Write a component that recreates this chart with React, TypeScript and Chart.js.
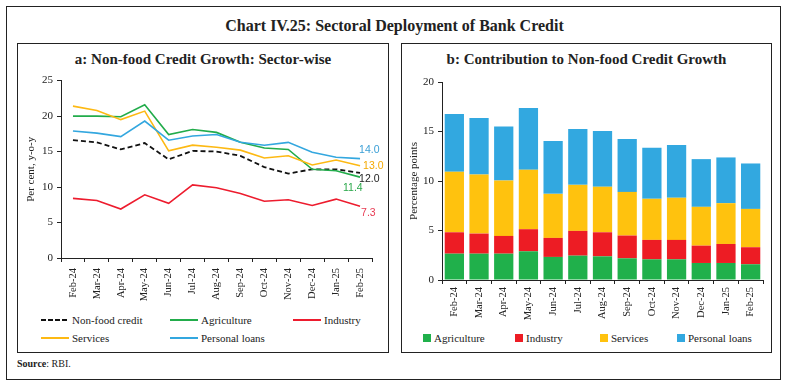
import React, { useEffect, useRef } from "react";
import { Chart, registerables } from "chart.js";
Chart.register(...registerables);

// ---------- DATA ----------
const months = ["Feb-24", "Mar-24", "Apr-24", "May-24", "Jun-24", "Jul-24", "Aug-24", "Sep-24", "Oct-24", "Nov-24", "Dec-24", "Jan-25", "Feb-25"];

// Panel a: growth, per cent y-o-y
const nonFoodGrowth = [16.6, 16.3, 15.3, 16.2, 13.9, 15.1, 15.0, 14.4, 12.8, 11.9, 12.5, 12.5, 12.0];
const agricultureGrowth = [20.0, 20.0, 19.9, 21.6, 17.4, 18.1, 17.7, 16.3, 15.5, 15.3, 12.5, 12.3, 11.4];
const industryGrowth = [8.4, 8.1, 6.9, 8.9, 7.7, 10.3, 9.9, 9.1, 8.0, 8.2, 7.4, 8.3, 7.3];
const servicesGrowth = [21.4, 20.8, 19.5, 20.7, 15.1, 15.9, 15.6, 15.2, 14.1, 14.4, 13.1, 13.8, 13.0];
const personalLoansGrowth = [17.9, 17.6, 17.1, 19.3, 16.6, 17.2, 17.4, 16.3, 15.9, 16.3, 14.9, 14.2, 14.0];

// Panel b: contribution, percentage points
const agricultureContrib = [2.66, 2.66, 2.66, 2.90, 2.33, 2.46, 2.39, 2.19, 2.09, 2.09, 1.72, 1.72, 1.59];
const industryContrib = [2.16, 2.03, 1.79, 2.23, 1.92, 2.50, 2.43, 2.30, 1.96, 1.96, 1.75, 1.92, 1.72];
const servicesContrib = [6.11, 5.97, 5.60, 6.00, 4.45, 4.65, 4.59, 4.41, 4.15, 4.25, 3.92, 4.12, 3.87];
const personalLoansContrib = [5.83, 5.70, 5.46, 6.24, 5.33, 5.63, 5.63, 5.33, 5.16, 5.33, 4.82, 4.62, 4.59];

const growthTicks = [0, 5, 10, 15, 20, 25];
const contribTicks = [0, 5, 10, 15, 20];

// ---------- STYLE ----------
const SERIF = "'Liberation Serif', 'DejaVu Serif', serif";
const AXIS = "#222222";
const C_GREEN = "#22ac4b";
const C_RED = "#ed1c2e";
const C_YELLOW = "#fdb913";
const C_BLUE = "#33a7df";
const B_GREEN = "#20b04b";
const B_RED = "#ed1c24";
const B_YELLOW = "#ffc20e";
const B_BLUE = "#32a8e0";

const endLabelPlugin = {
  id: "endLabels",
  afterDatasetsDraw(chart: any) {
    const ctx = chart.ctx;
    chart.data.datasets.forEach((ds: any, i: number) => {
      const off = ds.endLabel;
      if (!off) return;
      const meta = chart.getDatasetMeta(i);
      const pt = meta.data[meta.data.length - 1];
      const v = ds.data[ds.data.length - 1];
      ctx.save();
      ctx.font = "10.5px 'Liberation Sans', sans-serif";
      ctx.fillStyle = off.color;
      ctx.textAlign = "left";
      ctx.textBaseline = "middle";
      ctx.fillText(Number(v).toFixed(1), pt.x + off.dx, pt.y + off.dy);
      ctx.restore();
    });
  },
};

function yScale(ticks: number[], title: string, width: number, titleOffset: number) {
  return {
    min: ticks[0],
    max: ticks[ticks.length - 1],
    afterBuildTicks: (s: any) => {
      s.ticks = ticks.map((v) => ({ value: v }));
    },
    afterFit: (s: any) => {
      s.width = width;
    },
    grid: { drawOnChartArea: false, drawTicks: true, tickLength: 4, color: AXIS },
    border: { display: true, color: AXIS, width: 1 },
    ticks: { font: { family: SERIF, size: 11 }, color: "#222", padding: 4 },
    title: {
      display: true,
      text: title,
      font: { family: SERIF, size: 11 },
      color: "#222",
      padding: { top: titleOffset, bottom: 0 },
    },
  };
}

function xScale(height: number, pad: number) {
  return {
    offset: true,
    afterFit: (s: any) => {
      s.height = height;
    },
    grid: { offset: true, drawOnChartArea: false, drawTicks: true, tickLength: 4, color: AXIS },
    border: { display: true, color: AXIS, width: 1 },
    ticks: {
      font: { family: SERIF, size: 10.5 },
      color: "#222",
      minRotation: 90,
      maxRotation: 90,
      autoSkip: false,
      padding: pad,
    },
  };
}

function LineChart() {
  const ref = useRef<HTMLCanvasElement>(null);
  useEffect(() => {
    const mk = (label: string, data: number[], color: string, endLabel: any, dash: number[] = []) => ({
      label,
      data,
      borderColor: color,
      backgroundColor: color,
      borderWidth: dash.length ? 1.8 : 1.6,
      borderDash: dash,
      pointRadius: 0,
      tension: 0,
      endLabel,
    });
    const chart = new Chart(ref.current as HTMLCanvasElement, {
      type: "line",
      data: {
        labels: months,
        datasets: [
          mk("Personal loans", personalLoansGrowth, C_BLUE, { dx: -1, dy: -9, color: "#3a9fd6" }),
          mk("Services", servicesGrowth, C_YELLOW, { dx: 3, dy: 0, color: "#f4a900" }),
          mk("Agriculture", agricultureGrowth, C_GREEN, { dx: -17, dy: 11, color: "#2aa84a" }),
          mk("Industry", industryGrowth, C_RED, { dx: 1, dy: 7, color: "#e83a52" }),
          mk("Non-food credit", nonFoodGrowth, "#111111", { dx: -1, dy: 6, color: "#222" }, [5, 3]),
        ] as any,
      },
      options: {
        responsive: false,
        animation: false,
        layout: { padding: { top: 8, right: 16, left: 0, bottom: 0 } },
        plugins: { legend: { display: false }, tooltip: { enabled: false } },
        scales: {
          x: xScale(52, 6) as any,
          y: yScale(growthTicks, "Per cent, y-o-y", 44, 8) as any,
        },
      },
      plugins: [endLabelPlugin],
    });
    return () => chart.destroy();
  }, []);
  return <canvas ref={ref} width={371} height={240} style={{ position: "absolute", left: 17, top: 70 }} />;
}

function BarChart() {
  const ref = useRef<HTMLCanvasElement>(null);
  useEffect(() => {
    const mk = (label: string, data: number[], color: string) => ({
      label,
      data,
      backgroundColor: color,
      borderWidth: 0,
      barPercentage: 0.78,
      categoryPercentage: 1,
    });
    const chart = new Chart(ref.current as HTMLCanvasElement, {
      type: "bar",
      data: {
        labels: months,
        datasets: [
          mk("Agriculture", agricultureContrib, B_GREEN),
          mk("Industry", industryContrib, B_RED),
          mk("Services", servicesContrib, B_YELLOW),
          mk("Personal loans", personalLoansContrib, B_BLUE),
        ],
      },
      options: {
        responsive: false,
        animation: false,
        layout: { padding: { top: 12, right: 8, left: 0, bottom: 0 } },
        plugins: { legend: { display: false }, tooltip: { enabled: false } },
        scales: {
          x: { ...(xScale(45, 3) as any), stacked: true },
          y: { ...(yScale(contribTicks, "Percentage points", 41, 7) as any), stacked: true },
        },
      },
    });
    return () => chart.destroy();
  }, []);
  return <canvas ref={ref} width={370} height={255} style={{ position: "absolute", left: 401, top: 70 }} />;
}

const lineLegend = [
  { label: "Non-food credit", color: "#111", dash: true, x: 41, y: 320 },
  { label: "Agriculture", color: C_GREEN, dash: false, x: 170, y: 320 },
  { label: "Industry", color: C_RED, dash: false, x: 293, y: 320 },
  { label: "Services", color: C_YELLOW, dash: false, x: 41, y: 338 },
  { label: "Personal loans", color: C_BLUE, dash: false, x: 170, y: 338 },
];

const barLegend = [
  { label: "Agriculture", color: B_GREEN, x: 423 },
  { label: "Industry", color: B_RED, x: 515 },
  { label: "Services", color: B_YELLOW, x: 600 },
  { label: "Personal loans", color: B_BLUE, x: 677 },
];

export default function App() {
  const text = { fontFamily: SERIF, color: "#222" } as React.CSSProperties;
  return (
    <div style={{ position: "fixed", left: 0, top: 0, width: 789, height: 387, background: "#fff", ...text }}>
      <div style={{ position: "absolute", left: 6, top: 6, width: 775, height: 374, border: "1px solid #222", boxSizing: "border-box" }} />
      <div style={{ position: "absolute", left: 0, width: 789, top: 16, textAlign: "center", fontSize: 16, fontWeight: "bold", lineHeight: "20px" }}>
        Chart IV.25: Sectoral Deployment of Bank Credit
      </div>
      <div style={{ position: "absolute", left: 17, top: 43, width: 372, height: 310, border: "1px solid #222", boxSizing: "border-box" }} />
      <div style={{ position: "absolute", left: 401, top: 43, width: 371, height: 310, border: "1px solid #222", boxSizing: "border-box" }} />
      <div style={{ position: "absolute", left: 17, width: 372, top: 50, textAlign: "center", fontSize: 15, fontWeight: "bold", lineHeight: "18px" }}>
        a: Non-food Credit Growth: Sector-wise
      </div>
      <div style={{ position: "absolute", left: 401, width: 371, top: 50, textAlign: "center", fontSize: 15, fontWeight: "bold", lineHeight: "18px" }}>
        b: Contribution to Non-food Credit Growth
      </div>
      <LineChart />
      <BarChart />
      {lineLegend.map((it) => (
        <div key={it.label} style={{ position: "absolute", left: it.x, top: it.y - 8, height: 16, display: "flex", alignItems: "center", fontSize: 11 }}>
          <svg width={28} height={4} style={{ marginRight: 3 }}>
            <line x1={0} y1={2} x2={28} y2={2} stroke={it.color} strokeWidth={2} strokeDasharray={it.dash ? "5,2" : undefined} />
          </svg>
          <span>{it.label}</span>
        </div>
      ))}
      {barLegend.map((it) => (
        <div key={it.label} style={{ position: "absolute", left: it.x, top: 330, height: 16, display: "flex", alignItems: "center", fontSize: 11 }}>
          <span style={{ display: "inline-block", width: 8, height: 8, background: it.color, marginRight: 3 }} />
          <span>{it.label}</span>
        </div>
      ))}
      <div style={{ position: "absolute", left: 17, top: 357, fontSize: 10, lineHeight: "14px" }}>
        <b>Source</b>: RBI.
      </div>
    </div>
  );
}
